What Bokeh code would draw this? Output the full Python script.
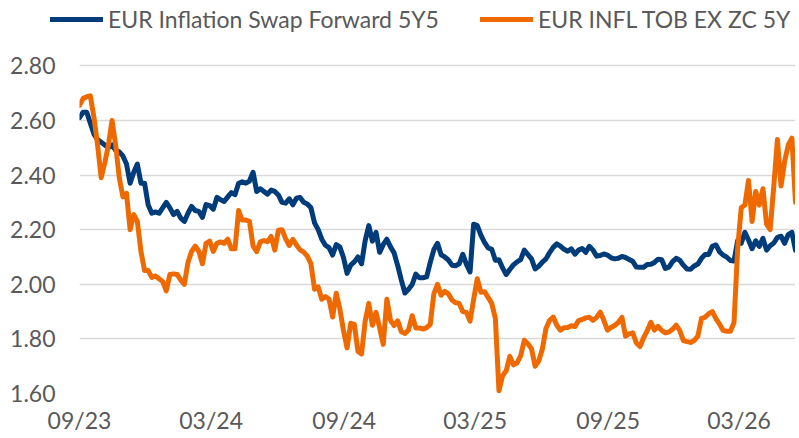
import pandas as pd
from bokeh.plotting import figure
from bokeh.layouts import column
from bokeh.models import (ColumnDataSource, FixedTicker, DatetimeTickFormatter,
                          PrintfTickFormatter, Legend, LegendItem, Range1d)
from bokeh.embed import file_html
from bokeh.resources import INLINE

# ---- data (sampled every 5 calendar days from the start date) ----
START = "2023-09-01"
STEP = "5D"

swap_5y5 = [
    2.61, 2.63, 2.63, 2.59, 2.55, 2.53, 2.52, 2.51, 2.50, 2.51, 2.49, 2.485, 2.47, 2.44, 2.37, 2.41,
    2.44, 2.37, 2.37, 2.29, 2.26, 2.265, 2.26, 2.28, 2.30, 2.28, 2.255, 2.267, 2.242, 2.23, 2.26, 2.285, 2.27,
    2.267, 2.245, 2.292, 2.288, 2.275, 2.318, 2.31, 2.303, 2.32, 2.336, 2.328, 2.37, 2.375, 2.37, 2.378, 2.41,
    2.34, 2.35, 2.34, 2.33, 2.345, 2.34, 2.327, 2.30, 2.297, 2.313, 2.291, 2.315, 2.318, 2.30, 2.294, 2.28, 2.225,
    2.20, 2.165, 2.143, 2.134, 2.107, 2.145, 2.136, 2.098, 2.04, 2.07, 2.082, 2.10, 2.075, 2.16, 2.215, 2.158,
    2.19, 2.117, 2.145, 2.165, 2.137, 2.115, 2.068, 2.015, 1.968, 1.982, 1.999, 2.037, 2.024, 2.024, 2.027, 2.08, 2.127,
    2.15, 2.108, 2.10, 2.089, 2.07, 2.068, 2.075, 2.11, 2.073, 2.045, 2.22, 2.215, 2.18, 2.153, 2.133, 2.128,
    2.088, 2.09, 2.06, 2.036, 2.054, 2.071, 2.082, 2.09, 2.125, 2.109, 2.093, 2.056, 2.066, 2.081, 2.093, 2.116, 2.135,
    2.148, 2.14, 2.128, 2.121, 2.13, 2.11, 2.125, 2.131, 2.117, 2.139, 2.125, 2.103, 2.105, 2.111, 2.107, 2.097,
    2.093, 2.095, 2.102, 2.098, 2.091, 2.084, 2.063, 2.062, 2.062, 2.072, 2.073, 2.08, 2.092, 2.09, 2.058, 2.063, 2.083,
    2.095, 2.088, 2.07, 2.056, 2.055, 2.067, 2.074, 2.095, 2.109, 2.109, 2.139, 2.144, 2.119, 2.107, 2.099, 2.087,
    2.085, 2.16, 2.15, 2.19, 2.162, 2.13, 2.159, 2.139, 2.168, 2.125, 2.141, 2.151, 2.172, 2.176, 2.15, 2.182, 2.19, 2.125,
]

tob_zc_5y = [
    2.655, 2.68, 2.687, 2.69, 2.61, 2.51, 2.39, 2.445, 2.51, 2.60, 2.51, 2.39, 2.32, 2.333, 2.20, 2.255,
    2.23, 2.12, 2.05, 2.05, 2.025, 2.03, 2.02, 2.01, 1.976, 2.036, 2.038, 2.036, 2.015, 2.00, 2.08, 2.12, 2.14,
    2.121, 2.075, 2.15, 2.158, 2.12, 2.15, 2.155, 2.15, 2.165, 2.13, 2.13, 2.27, 2.235, 2.235, 2.23, 2.14,
    2.12, 2.155, 2.16, 2.156, 2.175, 2.125, 2.198, 2.20, 2.167, 2.142, 2.164, 2.144, 2.126, 2.118, 2.103, 2.075, 1.982,
    1.99, 1.945, 1.955, 1.946, 1.88, 1.967, 1.91, 1.83, 1.767, 1.857, 1.853, 1.755, 1.745, 1.865, 1.93, 1.85,
    1.897, 1.84, 1.78, 1.945, 1.868, 1.849, 1.866, 1.826, 1.82, 1.833, 1.885, 1.84, 1.84, 1.836, 1.841, 1.853, 1.965,
    2.00, 1.96, 1.974, 1.965, 1.942, 1.932, 1.93, 1.90, 1.897, 1.865, 1.945, 2.02, 1.971, 1.973, 1.952, 1.93,
    1.875, 1.61, 1.665, 1.683, 1.736, 1.705, 1.712, 1.738, 1.795, 1.782, 1.764, 1.70, 1.719, 1.763, 1.838, 1.868, 1.88,
    1.85, 1.832, 1.841, 1.842, 1.848, 1.845, 1.867, 1.871, 1.877, 1.879, 1.868, 1.879, 1.898, 1.868, 1.832, 1.842,
    1.849, 1.86, 1.879, 1.81, 1.818, 1.822, 1.785, 1.772, 1.804, 1.83, 1.861, 1.832, 1.846, 1.831, 1.822, 1.825, 1.835,
    1.85, 1.83, 1.794, 1.79, 1.787, 1.794, 1.81, 1.875, 1.879, 1.892, 1.90, 1.874, 1.854, 1.831, 1.828, 1.828,
    1.86, 2.13, 2.28, 2.29, 2.38, 2.23, 2.34, 2.29, 2.35, 2.22, 2.20, 2.36, 2.53, 2.36, 2.45, 2.51, 2.535, 2.30,
]

series_names = ["EUR Inflation Swap Forward 5Y5", "EUR INFL TOB EX ZC 5Y"]
x_tick_dates = ["2023-09-01", "2024-03-01", "2024-09-01", "2025-03-01", "2025-09-01", "2026-03-01"]
y_ticks = [1.60, 1.80, 2.00, 2.20, 2.40, 2.60, 2.80]

# ---- style ----
BLUE = "#003B7A"
ORANGE = "#EE6A00"
TXT = "#595959"
FONT = "Lato"
W = 795
LEG_H = 38
MAIN_H = 398
LW = 5

dates = pd.date_range(START, periods=len(swap_5y5), freq=STEP)
src = ColumnDataSource(dict(date=dates, a=swap_5y5, b=tob_zc_5y))

# ---- legend strip (its own frame spans the whole strip; the series lie
#      outside its ranges, so only the legend samples show) ----
leg = figure(width=W, height=LEG_H, output_backend="svg", toolbar_location=None,
             x_range=Range1d(0, 1), y_range=Range1d(0, 1),
             x_axis_location=None, y_axis_location=None, min_border=0)
leg.frame_align = False
leg.outline_line_color = None
leg.grid.visible = False
leg.background_fill_color = "white"
leg.border_fill_color = "white"
lr1 = leg.line("date", "a", source=src, line_color=BLUE, line_width=LW, line_cap="round")
lr2 = leg.line("date", "b", source=src, line_color=ORANGE, line_width=LW, line_cap="round")

def make_legend(label, rend, loc):
    return Legend(items=[LegendItem(label=label, renderers=[rend])],
                  orientation="horizontal", location=loc,
                  glyph_width=53, glyph_height=24, label_height=24,
                  label_standoff=5, padding=0, margin=0,
                  border_line_color=None, background_fill_alpha=0,
                  label_text_font=FONT, label_text_font_size="23px",
                  label_text_color=TXT)

leg.add_layout(make_legend(series_names[0], lr1, (50, 5)))
leg.add_layout(make_legend(series_names[1], lr2, (480, 5)))

# ---- main chart ----
p = figure(width=W, height=MAIN_H, x_axis_type="datetime",
           output_backend="svg", toolbar_location=None,
           x_range=Range1d(dates[0].to_pydatetime(), dates[-1].to_pydatetime()),
           y_range=Range1d(1.60, 2.90),
           min_border_left=79, min_border_right=0, min_border_top=0, min_border_bottom=43)
p.frame_align = False

p.outline_line_color = None
p.background_fill_color = "white"
p.border_fill_color = "white"

p.xgrid.grid_line_color = None
p.ygrid.grid_line_color = "#D9D9D9"
p.ygrid.grid_line_width = 1.6

tick_ms = [pd.Timestamp(d).value // 10**6 for d in x_tick_dates]
p.xaxis.ticker = FixedTicker(ticks=tick_ms)
fmt = "%m/%y"
p.xaxis.formatter = DatetimeTickFormatter(
    microseconds=fmt, milliseconds=fmt, seconds=fmt, minsec=fmt, minutes=fmt,
    hourmin=fmt, hours=fmt, days=fmt, months=fmt, years=fmt)
p.yaxis.ticker = FixedTicker(ticks=y_ticks)
p.yaxis.formatter = PrintfTickFormatter(format="%.2f")

for ax in (p.xaxis, p.yaxis):
    ax.axis_line_color = None
    ax.major_tick_line_color = None
    ax.minor_tick_line_color = None
    ax.major_tick_in = 0
    ax.major_tick_out = 0
    ax.major_label_text_font = FONT
    ax.major_label_text_font_size = "23px"
    ax.major_label_text_color = TXT
p.xaxis.major_label_standoff = 12
p.yaxis.major_label_standoff = 24

p.line("date", "a", source=src, line_color=BLUE, line_width=LW,
       line_join="round", line_cap="round")
p.line("date", "b", source=src, line_color=ORANGE, line_width=LW,
       line_join="round", line_cap="round")

layout = column(leg, p, spacing=0)
open("out.html", "w").write(file_html(layout, INLINE))
